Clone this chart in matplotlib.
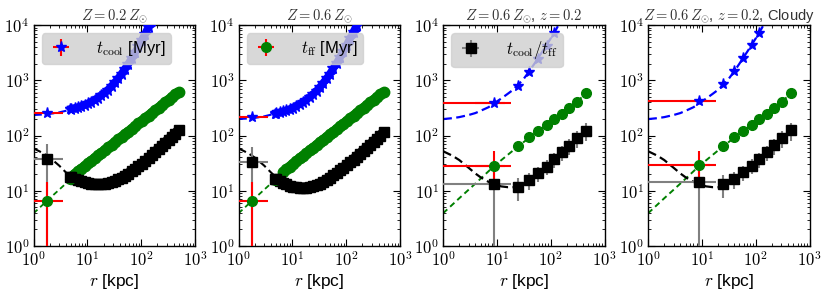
import numpy as np
import matplotlib
matplotlib.use("Agg")
import matplotlib.pyplot as plt
from matplotlib.ticker import FuncFormatter, LogLocator

plt.rcParams['mathtext.fontset'] = 'cm'
plt.rcParams['font.family'] = ['Liberation Sans', 'DejaVu Sans']

# ---- panels 1 & 2: dense simulation profiles ----
r_first = [1.76, 4.7]
r_dense = [5.0, 5.8, 6.7, 7.7, 8.9, 10.3, 11.9, 13.7, 15.8, 18.3, 21.1, 24.4,
           28.2, 32.5, 37.6, 43.4, 50.1, 57.9, 66.8, 77.2, 89.1, 103, 119,
           137, 158, 183, 211, 244, 282, 325, 376, 434, 501]

# panel 1 (Z = 0.2 Zsun)
tcool1_first = [252, 298]
tff1_first = [6.6, 16.0]
ratio1_first = [37.6, 17.5]
tcool1 = [305, 315, 325, 340, 360, 380, 405, 440, 480, 530, 600, 680, 790, 920,
          1090, 1320, 1620, 2000, 2500, 3200, 4100, 5300, 7000, 9300, 12500]
tff1 = [17.9, 20.1, 22.5, 25.0, 27.9, 31.3, 35.0, 39.0, 43.5, 48.6, 54.3, 60.7,
        67.9, 75.7, 84.7, 94.6, 105.7, 118, 132, 147, 165, 184, 206, 230, 256,
        286, 320, 357, 400, 446, 499, 557, 622]
ratio1 = [17.5, 16.3, 15.5, 14.9, 14.4, 13.9, 13.5, 13.2, 13.1, 13.1, 13.3, 13.7,
          14.2, 15.0, 16.0, 17.3, 18.8, 20.5, 22.5, 24.9, 27.6, 30.5, 34, 38.5,
          44, 50, 57, 65, 74, 84, 95, 108, 125]

# panel 2 (Z = 0.6 Zsun)
tcool2_first = [219, 245]
tff2_first = [6.5, 15.5]
ratio2_first = [32.7, 16.1]
tcool2 = [255, 262, 272, 285, 300, 318, 340, 368, 400, 445, 495, 560, 645, 750,
          900, 1080, 1320, 1650, 2050, 2650, 3400, 4400, 5800, 7600, 10000, 13000]
tff2 = [17.9, 19.5, 21.8, 24.4, 27.4, 30.8, 34.5, 38.5, 43.0, 48.0, 53.8, 60.2,
        67.3, 75.2, 84.2, 94.0, 105, 117, 131, 146, 164, 183, 205, 229, 255,
        285, 319, 356, 398, 444, 497, 555, 620]
ratio2 = [16.1, 14.8, 13.8, 13.0, 12.4, 11.9, 11.6, 11.4, 11.3, 11.4, 11.7, 12.1,
          12.7, 13.5, 14.5, 15.8, 17.3, 19.0, 21.0, 23.3, 26.0, 29.0, 32.5, 36.5,
          41.5, 47, 53, 60, 68, 77, 87, 99, 114]

# ---- panels 3 & 4: binned profiles ----
r_bins = [8.9, 24.7, 40, 58, 84, 117, 162, 222, 312, 458]
r_bin_lo = [8.4, 4.9, 6, 8, 11, 15, 20, 28, 40, 58]   # lower x errors
r_bin_hi = [9.1, 4.9, 6, 8, 11, 15, 20, 28, 40, 58]   # upper x errors

tcool3 = [383, 787, 1430, 2400, 4100, 7300]
tff3 = [28.4, 65.4, 92.7, 120, 155, 196, 245, 311, 409, 580]
ratio3 = [13.3, 11.8, 15.7, 20.7, 27.3, 37, 49.6, 65.4, 89, 122]

tcool4 = [420, 855, 1490, 2500, 4350, 7260]
tff4 = [29.2, 65.4, 92.7, 122, 155, 196, 245, 311, 409, 580]
ratio4 = [14.6, 13.3, 16.3, 21.6, 28.4, 37.6, 50.2, 66.4, 90, 124]

ratio_err_frac = [0.35, 0.45, 0.33, 0.3, 0.3, 0.3, 0.3, 0.32, 0.33, 0.36]

# ---- model curves (dashed) ----
r_mod_cool = [1, 1.5, 2, 3, 4, 5, 7, 9, 12, 16, 20, 25, 32, 40, 50, 58, 70, 84,
              100, 117, 140, 160]
mod_cool12 = [235, 240, 246, 262, 280, 300, 330, 365, 420, 500, 590, 700, 890,
              1130, 1500, 1900, 2600, 3600, 5000, 6900, 10300, 14000]
mod_cool2 = [199, 203, 208, 222, 238, 255, 280, 305, 345, 405, 470, 560, 700,
             880, 1150, 1450, 1950, 2700, 3700, 5100, 7600, 10300]
mod_cool34 = [198, 206, 215, 235, 255, 280, 325, 385, 465, 570, 670, 830, 1080,
              1450, 2000, 2500, 3300, 4350, 5700, 7300, 10000, 13000]
r_mod_ff = [1, 2, 4, 8.9, 25, 58, 117, 222, 458, 500]
mod_ff = [3.9, 7.3, 13.5, 28.0, 64, 120, 196, 311, 580, 620]
r_mod_ratio = [1, 1.5, 2, 3, 4, 5, 7, 9, 12, 16, 20, 24]
mod_ratio1 = [58.6, 48, 40, 28.5, 21.5, 17.5, 14.5, 13.5, 12.6, 12.2, 12.3, 12.6]
mod_ratio34 = [52, 43, 36, 26, 20.5, 17.5, 14.5, 13.0, 12.0, 11.6, 11.6, 11.8]

titles = [r'$Z = 0.2\,Z_{\odot}$', r'$Z = 0.6\,Z_{\odot}$',
          r'$Z = 0.6\,Z_{\odot}$, $z = 0.2$', r'$Z = 0.6\,Z_{\odot}$, $z = 0.2$, Cloudy']

fig = plt.figure(figsize=(8.3, 2.94), dpi=100)
W, H = 830.0, 294.0
lefts = [33.5, 238.5, 443, 648]
axes = [fig.add_axes([l / W, 48 / H, 161.5 / W, 221 / H]) for l in lefts]

fmt = FuncFormatter(lambda v, p: r'$10^{%d}$' % int(round(np.log10(v))))

leg_kw = dict(loc='upper left', fontsize=12, frameon=True, fancybox=True,
              facecolor='#cfcfcf', edgecolor='#cfcfcf', framealpha=0.8,
              handletextpad=1.3, handlelength=1.6, borderpad=0.35,
              bbox_to_anchor=(0.0, 1.0))


def dense_panel(ax, tc_first, tf_first, rt_first, tc, tf, rt, mcool, mratio, tf_start):
    ax.plot(r_mod_cool, mcool, ls=(0, (4, 2)), color='blue', lw=1.5, zorder=2)
    ax.plot(r_mod_ff[:4], mod_ff[:4], ls=(0, (3, 2)), color='green', lw=1.3, zorder=2)
    ax.plot(r_mod_ratio[:6], mratio[:6], ls=(0, (4, 2)), color='black', lw=1.5, zorder=2)
    # first (innermost) bins with big error bars
    ax.errorbar(r_first[:1], rt_first[:1], xerr=[[0.9], [1.84]],
                yerr=[[rt_first[0] - 0.5], [rt_first[0] * 0.9]],
                fmt='s', color='black', ecolor='gray', ms=7, elinewidth=1.5, zorder=3)
    ax.errorbar(r_first[:1], tf_first[:1], xerr=[[0.9], [1.84]],
                yerr=[[tf_first[0] - 0.5], [tf_first[0] * 1.2]],
                fmt='o', color='green', ecolor='red', ms=7, elinewidth=1.5, zorder=3)
    ax.errorbar(r_first[:1], tc_first[:1], xerr=[[0.9], [1.84]],
                fmt='*', color='blue', ecolor='red', ms=8, elinewidth=1.5, zorder=3)
    ax.errorbar(r_first[1:], tf_first[1:], xerr=0.6, yerr=2.5, fmt='o', color='green',
                ecolor='red', ms=7, elinewidth=1.2, zorder=3)
    ax.errorbar(r_first[1:], tc_first[1:], xerr=0.5, yerr=20, fmt='*', color='blue',
                ecolor='red', ms=8, elinewidth=1.2, zorder=3)
    ax.plot(r_first[1:], rt_first[1:], 's', color='black', ms=7, zorder=4)
    # dense radial profiles: markers joined into a solid band
    ax.plot(r_dense[:len(tc)], tc, '*-', color='blue', ms=8.5, lw=5.5, zorder=3)
    ax.plot(r_dense[tf_start:], tf[tf_start:], 'o-', color='green', ms=7.5, lw=7,
            solid_capstyle='butt', zorder=3)
    ax.plot(r_dense, rt, 's-', color='black', ms=7.5, lw=7.5, solid_capstyle='butt',
            zorder=3)


def binned_panel(ax, tc, tf, rt):
    ax.plot(r_mod_cool, mod_cool34, ls=(0, (4, 2)), color='blue', lw=1.6, zorder=2)
    ax.plot(r_mod_ff, mod_ff, ls=(0, (3, 2)), color='green', lw=1.4, zorder=2)
    ax.plot(r_mod_ratio, mod_ratio34, ls=(0, (4, 2)), color='black', lw=1.6, zorder=2)
    xl = np.array(r_bin_lo)
    xh = np.array(r_bin_hi)
    rtv = np.array(rt)
    ryerr = rtv * np.array(ratio_err_frac)
    ryerr_lo = ryerr.copy()
    ryerr_lo[0] = rtv[0] - 0.3
    ryerr[0] = rtv[0] * 0.9
    rxerr = np.array([xl * 0, xl * 0])
    rxerr[:, 0] = [xl[0], xh[0]]
    ax.errorbar(r_bins, rt, xerr=rxerr, yerr=[ryerr_lo, ryerr], fmt='s', color='black',
                ecolor='gray', ms=7, elinewidth=1.5, zorder=3)
    tfv = np.array(tf)
    fyl = tfv * 0.1
    fyh = tfv * 0.1
    fyl[0], fyh[0] = 12, 24
    ax.errorbar(r_bins, tf, xerr=[xl * 0.6, xh * 0.6], yerr=[fyl, fyh], fmt='o',
                color='green', ecolor='red', ms=7, elinewidth=1.5, zorder=3)
    ax.errorbar(r_bins[0:1], tf[0:1], xerr=[[xl[0]], [xh[0]]], fmt='none',
                ecolor='red', elinewidth=1.5, zorder=3)
    n = len(tc)
    tcv = np.array(tc)
    ax.errorbar(r_bins[:n], tc, xerr=[xl[:n] * 0.6, xh[:n] * 0.6], yerr=tcv * 0.1,
                fmt='*', color='blue', ecolor='red', ms=8, elinewidth=1.5, zorder=3)
    ax.errorbar(r_bins[0:1], tc[0:1], xerr=[[xl[0]], [xh[0]]], fmt='none',
                ecolor='red', elinewidth=1.5, zorder=3)


dense_panel(axes[0], tcool1_first, tff1_first, ratio1_first, tcool1, tff1, ratio1,
            mod_cool12, mod_ratio1, 0)
dense_panel(axes[1], tcool2_first, tff2_first, ratio2_first, tcool2, tff2, ratio2,
            mod_cool2, mod_ratio1, 2)
binned_panel(axes[2], tcool3, tff3, ratio3)
binned_panel(axes[3], tcool4, tff4, ratio4)

# legends (one entry per panel)
h = axes[0].errorbar([], [], xerr=[], yerr=[], fmt='*', color='blue', ecolor='red', ms=8)
axes[0].legend([h], [r'$t_{\rm cool}$ [Myr]'], **leg_kw).set_zorder(10)
h = axes[1].errorbar([], [], xerr=[], yerr=[], fmt='o', color='green', ecolor='red', ms=7)
axes[1].legend([h], [r'$t_{\rm ff}$ [Myr]'], **leg_kw).set_zorder(10)
h = axes[2].errorbar([], [], xerr=[], yerr=[], fmt='s', color='black', ecolor='gray', ms=7)
axes[2].legend([h], [r'$t_{\rm cool}/t_{\rm ff}$'], **leg_kw).set_zorder(10)

for ax, t in zip(axes, titles):
    ax.set_xscale('log')
    ax.set_yscale('log')
    ax.set_xlim(1, 1e3)
    ax.set_ylim(1, 1e4)
    ax.xaxis.set_major_locator(LogLocator(base=10, numticks=10))
    ax.yaxis.set_major_locator(LogLocator(base=10, numticks=10))
    ax.xaxis.set_major_formatter(fmt)
    ax.yaxis.set_major_formatter(fmt)
    ax.tick_params(which='both', direction='in', top=True, right=True, labelsize=12, pad=3)
    ax.tick_params(which='major', length=5, width=0.8)
    ax.tick_params(which='minor', length=2.5, width=0.6)
    ax.set_title(t, fontsize=10.5, pad=3, color='#333333')
    ax.set_xlabel(r'$r$ [kpc]', fontsize=12.5, labelpad=2)
    for s in ax.spines.values():
        s.set_linewidth(1.0)

fig.savefig('out.png', dpi=100)
